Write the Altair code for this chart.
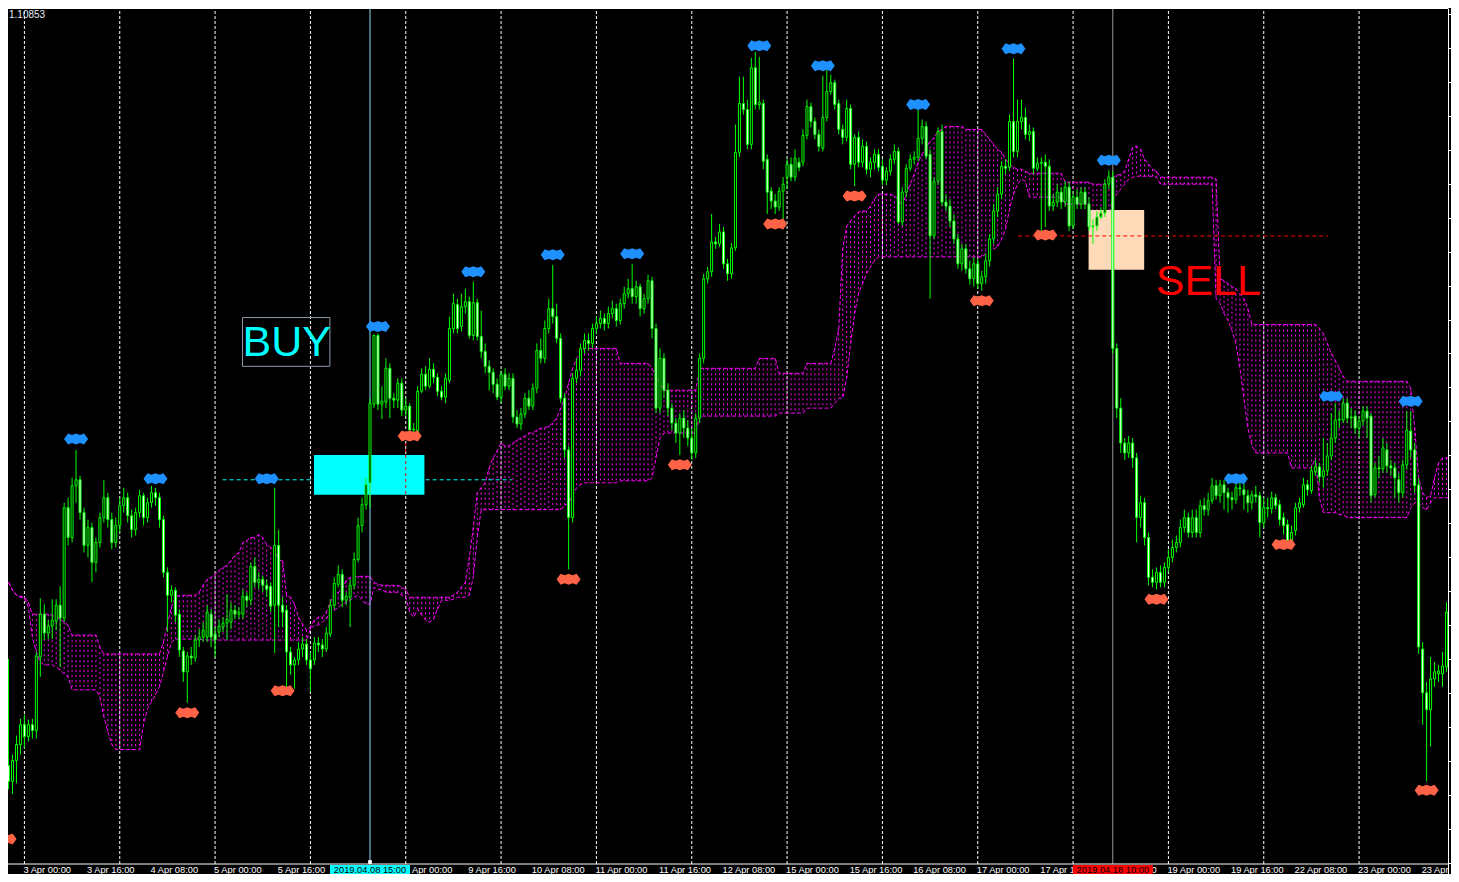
import altair as alt
import pandas as pd

# ---------------- price scale (EURUSD, H1) ----------------
BASE = 1.1177833          # price at tick level 0
STEP = 0.0006 / 34.13     # price per tick unit

# ---------------- OHLC, in tick units above BASE ----------------
OPEN_T = [
 99, 83, 104, 120, 140, 128, 140, 134, 208, 251,
 232, 239, 244, 260, 247, 358, 328, 380, 386, 353,
 320, 338, 303, 323, 348, 368, 346, 323, 340, 360,
 368, 350, 336, 353, 370, 348, 363, 373, 368, 346,
 293, 270, 275, 251, 214, 193, 209, 207, 225, 228,
 228, 251, 231, 233, 238, 242, 243, 255, 251, 251,
 269, 265, 299, 283, 286, 280, 279, 260, 320, 260,
 255, 213, 200, 205, 216, 221, 205, 205, 222, 220,
 216, 231, 260, 281, 291, 265, 268, 280, 306, 340,
 361, 383, 462, 531, 462, 464, 498, 468, 466, 483,
 456, 460, 436, 435, 475, 492, 480, 497, 489, 475,
 469, 486, 538, 562, 540, 560, 565, 531, 564, 530,
 515, 500, 494, 482, 469, 492, 480, 488, 449, 442,
 452, 468, 460, 478, 516, 508, 538, 558, 550, 528,
 468, 416, 348, 488, 496, 518, 526, 523, 538, 543,
 548, 543, 553, 558, 546, 563, 573, 578, 570, 580,
 558, 568, 586, 538, 458, 508, 476, 458, 443, 433,
 448, 438, 428, 413, 448, 508, 588, 595, 625, 623,
 635, 603, 593, 619, 715, 764, 758, 723, 800, 763,
 764, 708, 676, 666, 660, 676, 690, 703, 690, 705,
 705, 732, 761, 746, 733, 719, 750, 776, 785, 764,
 738, 730, 759, 703, 730, 705, 721, 698, 705, 713,
 701, 687, 696, 708, 716, 645, 675, 699, 708, 710,
 729, 741, 713, 631, 686, 736, 665, 661, 646, 628,
 603, 618, 598, 588, 603, 583, 590, 606, 628, 656,
 673, 701, 700, 746, 716, 746, 750, 733, 736, 699,
 704, 705, 701, 661, 665, 675, 665, 680, 641, 670,
 663, 675, 663, 640, 641, 650, 654, 683, 690, 518,
 458, 423, 413, 423, 408, 348, 363, 328, 288, 283,
 293, 283, 298, 308, 318, 323, 338, 348, 333, 348,
 333, 360, 356, 365, 380, 370, 381, 373, 368, 366,
 378, 376, 370, 363, 371, 370, 343, 358, 357, 368,
 361, 348, 341, 325, 335, 358, 361, 381, 375, 394,
 399, 389, 395, 410, 428, 446, 446, 463, 448, 450,
 438, 445, 455, 450, 371, 398, 397, 416, 400, 398,
 386, 373, 401, 435, 416, 381, 216, 172, 155, 186,
 191, 191, 198, 253]
HIGH_T = [
 206, 110, 129, 146, 150, 145, 146, 213, 267, 261,
 245, 266, 266, 279, 363, 368, 388, 416, 390, 358,
 346, 343, 328, 353, 386, 373, 353, 348, 368, 378,
 373, 356, 358, 376, 373, 368, 380, 378, 373, 350,
 298, 280, 278, 256, 218, 213, 218, 230, 236, 243,
 260, 256, 238, 246, 248, 271, 263, 260, 258, 276,
 273, 303, 308, 293, 290, 286, 283, 378, 336, 268,
 260, 218, 208, 223, 228, 226, 213, 228, 228, 226,
 238, 266, 288, 300, 296, 273, 286, 313, 348, 368,
 388, 468, 532, 533, 480, 508, 503, 473, 488, 488,
 468, 463, 443, 480, 498, 500, 508, 503, 493, 480,
 493, 550, 573, 568, 573, 578, 570, 585, 568, 556,
 523, 506, 498, 488, 496, 498, 493, 493, 456, 458,
 473, 476, 483, 523, 528, 546, 568, 602, 563, 533,
 473, 420, 493, 508, 523, 533, 533, 543, 550, 556,
 553, 560, 566, 563, 568, 580, 588, 603, 586, 583,
 573, 592, 590, 543, 518, 513, 483, 463, 448, 453,
 456, 446, 438, 453, 513, 593, 600, 653, 630, 643,
 640, 608, 624, 743, 791, 791, 768, 810, 816, 811,
 768, 713, 680, 673, 680, 690, 708, 710, 718, 710,
 738, 768, 765, 750, 738, 792, 801, 793, 788, 768,
 743, 768, 763, 733, 736, 728, 726, 710, 718, 718,
 708, 700, 713, 723, 720, 680, 703, 713, 716, 758,
 748, 746, 718, 690, 740, 743, 673, 668, 653, 633,
 623, 623, 606, 610, 608, 596, 613, 633, 663, 680,
 706, 708, 753, 809, 768, 768, 760, 743, 740, 710,
 710, 713, 708, 673, 683, 680, 686, 685, 676, 678,
 680, 680, 670, 648, 656, 660, 688, 697, 696, 523,
 468, 428, 430, 428, 413, 370, 368, 333, 296, 298,
 300, 303, 316, 326, 330, 346, 356, 353, 356, 356,
 366, 368, 373, 388, 386, 386, 386, 378, 374, 382,
 383, 382, 376, 375, 380, 374, 368, 368, 374, 372,
 366, 353, 346, 340, 363, 368, 388, 386, 400, 406,
 403, 428, 423, 453, 463, 456, 468, 468, 458, 456,
 450, 460, 460, 453, 403, 410, 428, 423, 406, 403,
 393, 406, 455, 455, 423, 388, 223, 183, 208, 203,
 200, 213, 263, 273]
LOW_T = [
 75, 70, 81, 110, 116, 123, 126, 126, 188, 225,
 226, 226, 235, 198, 243, 320, 323, 363, 346, 313,
 308, 283, 293, 318, 343, 338, 316, 318, 333, 353,
 343, 328, 330, 348, 340, 343, 358, 360, 338, 288,
 233, 263, 243, 208, 183, 162, 200, 203, 218, 223,
 223, 218, 208, 228, 233, 225, 236, 246, 246, 246,
 258, 260, 278, 276, 273, 268, 253, 212, 238, 238,
 176, 190, 176, 200, 208, 200, 173, 200, 213, 208,
 213, 228, 256, 278, 258, 260, 238, 276, 303, 333,
 356, 358, 458, 456, 447, 458, 448, 458, 458, 450,
 450, 435, 432, 432, 473, 476, 478, 483, 470, 466,
 463, 483, 533, 533, 535, 553, 528, 526, 526, 508,
 493, 476, 473, 466, 463, 476, 476, 443, 438, 436,
 448, 456, 456, 473, 503, 503, 533, 543, 523, 463,
 408, 296, 343, 483, 490, 513, 516, 518, 533, 538,
 536, 538, 548, 540, 542, 558, 568, 563, 563, 550,
 553, 563, 528, 453, 453, 468, 450, 436, 423, 411,
 428, 420, 406, 408, 443, 503, 583, 590, 618, 620,
 598, 586, 588, 616, 710, 753, 718, 718, 758, 758,
 698, 653, 658, 653, 656, 648, 678, 686, 686, 696,
 701, 728, 740, 728, 716, 716, 746, 773, 758, 733,
 723, 726, 698, 681, 700, 700, 693, 690, 698, 696,
 682, 682, 692, 703, 643, 641, 670, 696, 703, 706,
 723, 708, 568, 628, 682, 661, 656, 640, 623, 598,
 596, 593, 582, 580, 578, 576, 583, 600, 623, 650,
 668, 693, 696, 710, 710, 738, 728, 726, 693, 696,
 636, 640, 656, 656, 660, 658, 660, 636, 638, 658,
 658, 658, 636, 623, 636, 648, 650, 678, 513, 448,
 413, 406, 408, 398, 323, 338, 320, 280, 278, 276,
 278, 278, 293, 303, 313, 318, 333, 328, 328, 328,
 328, 350, 350, 362, 366, 363, 356, 353, 356, 362,
 370, 356, 353, 356, 363, 328, 338, 348, 352, 356,
 340, 331, 323, 323, 330, 353, 358, 370, 372, 390,
 383, 378, 390, 406, 423, 438, 443, 443, 438, 432,
 428, 440, 428, 363, 368, 388, 393, 393, 390, 368,
 363, 368, 396, 408, 373, 211, 140, 83, 118, 178,
 183, 178, 193, 228]
CLOSE_T = [
 83, 104, 120, 140, 128, 140, 134, 209, 251, 232,
 239, 245, 260, 247, 358, 328, 380, 386, 353, 320,
 338, 303, 323, 348, 368, 346, 323, 340, 360, 368,
 350, 336, 353, 370, 348, 363, 373, 368, 346, 293,
 270, 275, 250, 215, 193, 209, 207, 225, 228, 235,
 253, 228, 225, 239, 242, 246, 255, 251, 253, 269,
 265, 299, 283, 286, 280, 276, 259, 320, 260, 253,
 213, 200, 205, 216, 221, 205, 196, 222, 220, 216,
 232, 260, 282, 291, 265, 269, 280, 306, 340, 361,
 381, 463, 531, 462, 465, 498, 468, 466, 483, 456,
 460, 436, 437, 475, 492, 480, 497, 489, 475, 469,
 488, 538, 563, 538, 560, 565, 531, 564, 530, 515,
 500, 494, 482, 469, 492, 480, 488, 449, 442, 452,
 468, 460, 478, 516, 508, 538, 558, 550, 528, 468,
 416, 348, 488, 496, 518, 526, 523, 538, 543, 548,
 543, 553, 558, 546, 563, 573, 578, 570, 580, 558,
 568, 586, 538, 458, 508, 476, 458, 443, 433, 448,
 438, 428, 413, 448, 508, 588, 595, 625, 623, 635,
 603, 593, 619, 715, 764, 758, 723, 800, 763, 765,
 706, 675, 666, 660, 676, 683, 703, 690, 709, 700,
 732, 761, 746, 733, 721, 750, 776, 785, 763, 738,
 730, 759, 703, 730, 705, 721, 698, 705, 713, 700,
 687, 696, 708, 716, 645, 675, 699, 708, 710, 729,
 741, 711, 631, 686, 736, 665, 661, 646, 628, 603,
 618, 598, 588, 603, 583, 590, 606, 628, 656, 673,
 701, 699, 746, 716, 746, 750, 733, 736, 699, 704,
 705, 701, 661, 665, 675, 665, 680, 641, 670, 663,
 675, 663, 640, 641, 650, 654, 683, 690, 518, 458,
 423, 413, 423, 408, 348, 363, 328, 288, 283, 293,
 283, 298, 308, 318, 323, 338, 348, 333, 348, 333,
 360, 356, 365, 380, 370, 381, 373, 368, 366, 378,
 377, 371, 363, 371, 369, 343, 358, 357, 368, 360,
 346, 340, 325, 333, 358, 363, 381, 376, 395, 399,
 389, 395, 410, 428, 446, 447, 463, 448, 449, 438,
 445, 455, 448, 370, 398, 397, 418, 400, 398, 388,
 373, 401, 436, 416, 380, 218, 172, 155, 186, 193,
 194, 199, 253, 238]

# ---------------- Ichimoku cloud spans (tick units) ----------------
SPAN_A_T = [
 283, 275, 270, 269, 268, 263, 251, 251, 251, 251,
 251, 250, 248, 246, 243, 240, 230, 230, 230, 230,
 230, 230, 230, 218, 211, 211, 211, 211, 211, 211,
 211, 211, 211, 211, 211, 211, 211, 211, 211, 223,
 241, 258, 268, 270, 270, 270, 270, 270, 273, 280,
 286, 288, 291, 295, 298, 300, 305, 310, 313, 323,
 325, 328, 328, 331, 328, 321, 318, 316, 305, 305,
 270, 268, 261, 248, 241, 235, 238, 245, 248, 248,
 253, 263, 271, 273, 276, 285, 288, 288, 289, 289,
 289, 289, 283, 281, 280, 280, 280, 280, 280, 278,
 276, 268, 268, 268, 268, 268, 268, 268, 268, 268,
 268, 268, 270, 273, 278, 283, 308, 338, 373, 378,
 383, 398, 408, 415, 423, 420, 420, 423, 426, 428,
 430, 433, 433, 436, 438, 438, 440, 443, 448, 458,
 468, 483, 498, 508, 513, 518, 518, 518, 518, 518,
 518, 518, 518, 518, 503, 503, 503, 503, 503, 503,
 503, 503, 498, 490, 483, 476, 476, 476, 476, 476,
 476, 476, 476, 476, 498, 498, 498, 498, 498, 498,
 498, 498, 498, 498, 498, 498, 498, 498, 498, 508,
 508, 508, 508, 508, 493, 493, 493, 493, 493, 493,
 493, 503, 503, 503, 503, 503, 503, 503, 518, 538,
 618, 641, 646, 651, 655, 656, 656, 661, 668, 673,
 673, 673, 673, 671, 668, 661, 673, 683, 693, 705,
 713, 720, 726, 730, 736, 738, 741, 741, 741, 741,
 741, 738, 738, 738, 738, 738, 733, 728, 723, 718,
 715, 708, 703, 700, 698, 698, 696, 694, 694, 694,
 694, 694, 694, 694, 694, 694, 685, 685, 685, 685,
 685, 685, 685, 683, 683, 683, 683, 688, 690, 692,
 693, 696, 708, 720, 721, 718, 708, 703, 698, 696,
 690, 690, 690, 690, 690, 690, 690, 690, 690, 690,
 690, 690, 690, 690, 688, 588, 586, 583, 580, 578,
 573, 568, 558, 542, 542, 542, 542, 542, 542, 542,
 542, 542, 542, 542, 542, 542, 542, 542, 542, 542,
 538, 533, 523, 513, 506, 498, 490, 485, 485, 485,
 485, 485, 485, 485, 485, 485, 485, 485, 485, 485,
 485, 485, 485, 478, 438, 388, 373, 368, 370, 388,
 403, 408, 408, 408]
SPAN_B_T = [
 283, 275, 270, 268, 267, 258, 228, 213, 203, 200,
 200, 200, 198, 195, 191, 188, 175, 175, 175, 175,
 175, 175, 175, 168, 148, 133, 120, 115, 115, 115,
 115, 115, 115, 115, 141, 156, 163, 170, 178, 193,
 208, 223, 226, 226, 226, 226, 226, 226, 226, 225,
 225, 225, 225, 225, 225, 225, 225, 225, 225, 225,
 225, 225, 225, 225, 225, 225, 225, 225, 225, 225,
 225, 225, 225, 225, 225, 225, 236, 240, 240, 243,
 246, 253, 255, 258, 261, 263, 265, 268, 270, 265,
 261, 261, 278, 276, 276, 273, 273, 273, 273, 270,
 268, 253, 248, 256, 250, 245, 243, 246, 256, 265,
 265, 265, 266, 268, 268, 268, 270, 288, 328, 356,
 356, 356, 356, 356, 356, 356, 356, 356, 356, 356,
 356, 356, 356, 356, 356, 356, 356, 356, 356, 356,
 360, 363, 370, 378, 381, 383, 383, 383, 383, 383,
 383, 383, 383, 383, 385, 385, 385, 385, 385, 385,
 385, 385, 388, 408, 428, 433, 433, 433, 433, 433,
 433, 433, 433, 433, 450, 450, 450, 450, 450, 450,
 450, 450, 450, 450, 450, 450, 450, 450, 450, 450,
 450, 450, 450, 450, 453, 453, 453, 453, 453, 453,
 453, 458, 458, 458, 458, 458, 458, 458, 463, 468,
 468, 488, 523, 553, 573, 583, 593, 600, 606, 610,
 610, 610, 610, 610, 610, 610, 610, 610, 610, 610,
 610, 610, 610, 610, 610, 610, 610, 610, 610, 610,
 610, 610, 610, 610, 610, 610, 613, 616, 618, 620,
 628, 638, 658, 673, 683, 688, 686, 670, 670, 670,
 670, 670, 670, 670, 670, 670, 663, 663, 663, 663,
 663, 663, 663, 638, 638, 638, 638, 653, 668, 673,
 678, 683, 688, 690, 691, 691, 691, 691, 691, 690,
 683, 683, 683, 683, 683, 683, 683, 683, 683, 683,
 683, 683, 683, 683, 568, 563, 553, 546, 536, 523,
 498, 468, 438, 421, 413, 413, 413, 413, 413, 413,
 413, 413, 413, 398, 398, 398, 398, 398, 398, 408,
 368, 353, 353, 353, 353, 351, 351, 348, 348, 348,
 348, 348, 348, 348, 348, 348, 348, 348, 348, 348,
 348, 348, 348, 358, 363, 363, 358, 356, 363, 368,
 368, 368, 368, 368]

# ---------------- fractal markers (bar index, tick level) ----------------
FRACTAL_UP_BAR = [17, 37, 65, 93, 117, 137, 157, 189, 205, 229, 253, 277, 309, 333, 353]
FRACTAL_UP_T = [427, 387, 387, 540, 595, 612, 613, 822, 802, 763, 819, 707, 387, 470, 465]
FRACTAL_DN_BAR = [-1, 45, 69, 101, 141, 169, 193, 213, 245, 261, 289, 321, 357]
FRACTAL_DN_T = [25, 152, 174, 430, 286, 401, 643, 671, 566, 632, 266, 321, 74]

# ---------------- time axis ----------------
TIME_LABELS = ['3 Apr 00:00', '3 Apr 16:00', '4 Apr 08:00', '5 Apr 00:00', '5 Apr 16:00',
               '8 Apr 08:00', '9 Apr 00:00', '9 Apr 16:00', '10 Apr 08:00', '11 Apr 00:00',
               '11 Apr 16:00', '12 Apr 08:00', '15 Apr 00:00', '15 Apr 16:00', '16 Apr 08:00',
               '17 Apr 00:00', '17 Apr 16:00', '18 Apr 08:00', '19 Apr 00:00', '19 Apr 16:00',
               '22 Apr 08:00', '23 Apr 00:00', '23 Apr 16:00']
LABEL_BARS = [4, 20, 36, 52, 68, 84, 100, 116, 132, 148, 164, 180, 196, 212, 228, 244,
              260, 276, 292, 308, 324, 340, 356]
GRID_BARS = [4, 28, 52, 76, 100, 124, 148, 172, 196, 220, 244, 268, 292, 316, 340]
Y_TICKS = [1.1178, 1.1184, 1.1190, 1.1196, 1.1202, 1.1208, 1.1214, 1.1220, 1.1226,
           1.1232, 1.1238, 1.1244, 1.1250, 1.1256, 1.1262, 1.1268, 1.1274, 1.1280,
           1.1286, 1.1292, 1.1298, 1.1304, 1.1310, 1.1316, 1.1322, 1.1328]

# ---------------- annotations (bar index, tick level) ----------------
BUY_BAR, SELL_BAR = 91, 278
BUY_TIME, SELL_TIME = '2019.04.08 15:00', '2019.04.18 10:00'
BUY_ZONE = dict(j0=76.9, j1=104.7, t0=411, t1=371)
SELL_ZONE = dict(j0=271.9, j1=285.9, t0=657, t1=597)
BUY_LEVEL = dict(j0=53.9, j1=126.7, t=386)
SELL_LEVEL = dict(j0=254.2, j1=332.2, t=631)
BUY_LABEL = dict(j=70.05, t=510, j0=58.9, j1=80.9, t0=549, t1=500)
SELL_LABEL = dict(j=302.05, t=572)


def price(t):
    return BASE + t * STEP


N = len(CLOSE_T)
bars = pd.DataFrame({
    'j': list(range(N)),
    'o': [price(v) for v in OPEN_T],
    'h': [price(v) for v in HIGH_T],
    'l': [price(v) for v in LOW_T],
    'c': [price(v) for v in CLOSE_T],
    'a': [price(v) for v in SPAN_A_T],
    'b': [price(v) for v in SPAN_B_T],
})
up = pd.DataFrame({'j': FRACTAL_UP_BAR, 'p': [price(v) for v in FRACTAL_UP_T]})
dn = pd.DataFrame({'j': FRACTAL_DN_BAR, 'p': [price(v) for v in FRACTAL_DN_T]})
P0 = price(0)                       # level of the time axis line
grid = pd.DataFrame({'j': GRID_BARS, 'p': P0})
labels = pd.DataFrame({'j': LABEL_BARS, 's': TIME_LABELS, 'p': P0})

W, H = 1440, 866                    # plot incl. the time-label strip
PLOT_H = 856                        # price area height in px
T_BOTTOM = -(H - PLOT_H) * 860 / PLOT_H
XS = alt.Scale(domain=[1.125, 1.125 + W / 4], nice=False, zero=False)
YS = alt.Scale(domain=[price(T_BOTTOM), price(860)], nice=False, zero=False)
YAXIS = alt.Axis(orient='right', values=Y_TICKS, labels=False, ticks=True,
                 tickColor='white', tickSize=3, domainColor='white', grid=False, title=None)


def X(f='j'):
    return alt.X(f + ':Q', scale=XS, axis=None)


def Y(f):
    return alt.Y(f + ':Q', scale=YS, axis=YAXIS)


MAGENTA = '#FF00FF'
LIME = '#00FF00'

grid_l = alt.Chart(grid).mark_rule(color='white', strokeDash=[3, 2], strokeWidth=1).encode(
    x=X(), y=Y('p'), y2=alt.value(0))

hatch = alt.Chart(bars).mark_rule(color=MAGENTA, strokeDash=[2, 3], strokeWidth=1, clip=True).encode(
    x=X(), y=Y('a'), y2='b')
span_a = alt.Chart(bars).mark_line(color=MAGENTA, strokeDash=[4, 2], strokeWidth=1, clip=True).encode(
    x=X(), y=Y('a'))
span_b = alt.Chart(bars).mark_line(color=MAGENTA, strokeDash=[4, 2], strokeWidth=1, clip=True).encode(
    x=X(), y=Y('b'))


def one(d):
    return pd.DataFrame([d])


buy_line = alt.Chart(one(dict(j0=BUY_LEVEL['j0'], j1=BUY_LEVEL['j1'], p=price(BUY_LEVEL['t'])))).mark_rule(
    color='#00FFFF', strokeDash=[4, 3]).encode(x=X('j0'), x2='j1', y=Y('p'))
buy_zone = alt.Chart(one(dict(j0=BUY_ZONE['j0'], j1=BUY_ZONE['j1'], p0=price(BUY_ZONE['t0']),
                              p1=price(BUY_ZONE['t1'])))).mark_rect(color='#00FFFF').encode(
    x=X('j0'), x2='j1', y=Y('p0'), y2='p1')
sell_zone = alt.Chart(one(dict(j0=SELL_ZONE['j0'], j1=SELL_ZONE['j1'], p0=price(SELL_ZONE['t0']),
                               p1=price(SELL_ZONE['t1'])))).mark_rect(color='#FFDAB9').encode(
    x=X('j0'), x2='j1', y=Y('p0'), y2='p1')
sell_line = alt.Chart(one(dict(j0=SELL_LEVEL['j0'], j1=SELL_LEVEL['j1'], p=price(SELL_LEVEL['t'])))).mark_rule(
    color='#FF0000', strokeDash=[4, 3]).encode(x=X('j0'), x2='j1', y=Y('p'))
red_vert = alt.Chart(one(dict(j=100, p0=price(435), p1=price(371)))).mark_rule(
    color='#FF0000', strokeDash=[3, 3]).encode(x=X(), y=Y('p0'), y2='p1')

buy_vline = alt.Chart(one(dict(j=BUY_BAR, p=P0))).mark_rule(color='#86DCF2', strokeWidth=1).encode(
    x=X(), y=Y('p'), y2=alt.value(0))
sell_vline = alt.Chart(one(dict(j=SELL_BAR, p=P0))).mark_rule(color='#9A9A9A', strokeWidth=1).encode(
    x=X(), y=Y('p'), y2=alt.value(0))

wicks = alt.Chart(bars).mark_rule(color=LIME, strokeWidth=1, clip=True).encode(x=X(), y=Y('l'), y2='h')
bodies = alt.Chart(bars).mark_bar(size=2, stroke=LIME, strokeWidth=1, clip=True).encode(
    x=X(), y=Y('o'), y2='c',
    fill=alt.condition('datum.c < datum.o', alt.value('#FFFFFF'), alt.value('#000000')))

MARK = ("M-1,0L-0.667,-0.458L-0.333,-0.333L0,-0.458L0.333,-0.333L0.667,-0.458L1,0"
        "L0.667,0.458L0.333,0.333L0,0.458L-0.333,0.333L-0.667,0.458Z")
up_m = alt.Chart(up).mark_point(shape=MARK, size=576, filled=True, color='#1E90FF', opacity=1,
                                strokeWidth=0, clip=True).encode(x=X(), y=Y('p'))
dn_m = alt.Chart(dn).mark_point(shape=MARK, size=576, filled=True, color='#FF6347', opacity=1,
                                strokeWidth=0, clip=True).encode(x=X(), y=Y('p'))

buy_box = alt.Chart(one(dict(j0=BUY_LABEL['j0'], j1=BUY_LABEL['j1'], p0=price(BUY_LABEL['t0']),
                             p1=price(BUY_LABEL['t1'])))).mark_rect(
    fillOpacity=0, stroke='#8C9AA8', strokeWidth=1).encode(x=X('j0'), x2='j1', y=Y('p0'), y2='p1')
buy_txt = alt.Chart(one(dict(j=BUY_LABEL['j'], p=price(BUY_LABEL['t']), s='BUY'))).mark_text(
    font='Liberation Sans', fontSize=43, color='#00FFFF', align='center', baseline='alphabetic').encode(
    x=X(), y=Y('p'), text='s:N')
sell_txt = alt.Chart(one(dict(j=SELL_LABEL['j'], p=price(SELL_LABEL['t']), s='SELL'))).mark_text(
    font='Liberation Sans', fontSize=43, color='#FF0000', align='center', baseline='alphabetic').encode(
    x=X(), y=Y('p'), text='s:N')

# frame: top border and time-axis line
top_border = alt.Chart(one(dict(k=0))).mark_rule(color='white', strokeWidth=1).encode(
    x=alt.value(0), x2=alt.value(W), y=alt.value(0.5))
axis_line = alt.Chart(one(dict(p=P0))).mark_rule(color='white', strokeWidth=1).encode(
    x=alt.value(0), x2=alt.value(W), y=Y('p'))
time_lbl = alt.Chart(labels).mark_text(font='Liberation Sans', fontSize=9.3, color='white',
                                       align='left', baseline='top', dx=-1, dy=2, clip=True).encode(
    x=X(), y=Y('p'), text='s:N')
corner = alt.Chart(one(dict(s='1.10853'))).mark_text(
    font='Liberation Sans', fontSize=10, color='#E6EEF6', align='left', baseline='top').encode(
    x=alt.value(1), y=alt.value(2), text='s:N')

hl = pd.DataFrame({'j': [BUY_BAR, SELL_BAR], 's': [BUY_TIME, SELL_TIME],
                   'col': ['#00FFFF', '#FF0000'], 'p': P0})
hl_box = alt.Chart(hl).mark_rect(xOffset=-40, x2Offset=40, yOffset=1, clip=True).encode(
    x=X(), x2='j', y=Y('p'), y2=alt.value(H),
    color=alt.Color('col:N', scale=None))
hl_txt = alt.Chart(hl).mark_text(font='Liberation Sans', fontSize=9.3, color='black',
                                 align='center', baseline='top', dy=2, clip=True).encode(
    x=X(), y=Y('p'), text='s:N')
handle = alt.Chart(one(dict(j=BUY_BAR, p=P0))).mark_point(shape='square', size=14, filled=True,
                                                          color='white', opacity=1, yOffset=-2).encode(
    x=X(), y=Y('p'))

chart = alt.layer(
    grid_l, hatch, span_a, span_b, buy_line, buy_zone, sell_zone, sell_line, red_vert,
    buy_vline, sell_vline, wicks, bodies, up_m, dn_m, buy_box, buy_txt, sell_txt,
    top_border, axis_line, time_lbl, corner, hl_box, hl_txt, handle
).properties(
    width=W, height=H, background='black',
    padding={'left': 0, 'top': 0, 'right': 3, 'bottom': 0},
    autosize=alt.AutoSizeParams(type='none')
).configure_view(stroke=None)

chart.save("out.html", embed_options={"renderer": "svg", "actions": False})
